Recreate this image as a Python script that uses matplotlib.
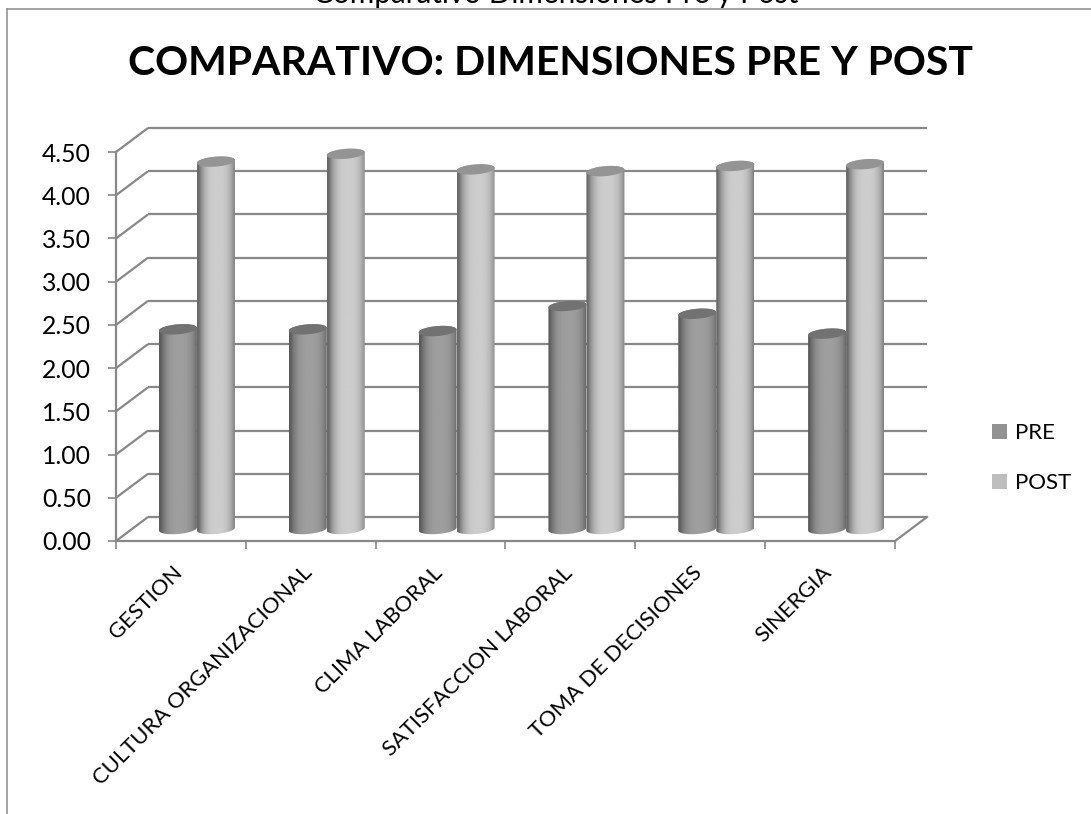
import numpy as np
import matplotlib
matplotlib.use("Agg")
import matplotlib.pyplot as plt
from matplotlib.path import Path
from matplotlib.patches import PathPatch, Patch
from matplotlib.lines import Line2D

categories = ["GESTION", "CULTURA ORGANIZACIONAL", "CLIMA LABORAL",
              "SATISFACCION LABORAL", "TOMA DE DECISIONES", "SINERGIA"]
pre = [2.31, 2.31, 2.29, 2.58, 2.49, 2.26]
post = [4.25, 4.34, 4.16, 4.14, 4.20, 4.22]
yticks = [0, 0.5, 1, 1.5, 2, 2.5, 3, 3.5, 4, 4.5]
series_names = ["PRE", "POST"]

W, H = 1091, 814
plt.rcParams["font.family"] = ["Lato", "DejaVu Sans"]
fig = plt.figure(figsize=(W / 100, H / 100), dpi=100)
fig.patch.set_facecolor("white")
AX_L, AX_T, AX_R, AX_B = 116, 152, 895, 541
ax = fig.add_axes([AX_L / W, 1 - AX_B / H, (AX_R - AX_L) / W, (AX_B - AX_T) / H])
ax.patch.set_visible(False)

GRID = "#888888"
px_x = 6 / (AX_R - AX_L)
px_y = 4.5 / (AX_B - AX_T)
dx, dy = 32 * px_x, 24 * px_y

for v in yticks:
    ax.plot([0, dx], [v, v + dy], color=GRID, lw=1.6, clip_on=False, zorder=1, solid_capstyle="butt")
    ax.plot([dx, 6 + dx], [v + dy, v + dy], color=GRID, lw=1.6, clip_on=False, zorder=1, solid_capstyle="butt")
ax.plot([6, 6 + dx], [0, dy], color=GRID, lw=1.6, clip_on=False, zorder=1)


def cylinder(xc, val, w, lo, hi, top_col, z):
    t = np.linspace(0, 2 * np.pi, 121)
    hw = w / 2
    b = 5 * px_y
    tilt = 1.5 * px_y
    ex = xc + hw * np.cos(t)
    offs = b * np.sin(t) + tilt * np.cos(t)
    base = dy / 2
    low = (t >= np.pi) & (t <= 2 * np.pi)
    up = t <= np.pi
    xs = np.r_[ex[low], ex[up]]
    ys = np.r_[(base + offs)[low], (base + val + offs)[up]]
    body = PathPatch(Path(np.c_[xs, ys]), transform=ax.transData, fc="none", ec="none")
    ax.add_patch(body)
    u = np.linspace(-1, 1, 120)
    shade = lo + (hi - lo) * (1 - np.abs(u - 0.08) ** 3).clip(0, 1)
    img = np.repeat(shade[None, :], 2, axis=0)
    im = ax.imshow(img, cmap="gray", vmin=0, vmax=255, aspect="auto", interpolation="bilinear",
                   extent=[xc - hw, xc + hw, base - 2 * b, base + val + 2 * b], zorder=z)
    im.set_clip_path(body)
    im.set_clip_box(fig.bbox)
    top = PathPatch(Path(np.c_[ex, base + val + offs]), fc=top_col, ec="none", zorder=z + 0.1, clip_on=False)
    ax.add_patch(top)


bw = 38 * px_x
for i in range(len(categories)):
    xc = i + 0.5 + dx / 2
    cylinder(xc - bw / 2, pre[i], bw, 92, 158, "#727272", 2 + i)
    cylinder(xc + bw / 2, post[i], bw, 105, 205, "#949494", 2.5 + i)

ax.set_xlim(0, 6)
ax.set_ylim(0, 4.5)
for s in ("top", "right"):
    ax.spines[s].set_visible(False)
for s in ("left", "bottom"):
    ax.spines[s].set_color(GRID)
    ax.spines[s].set_linewidth(1.6)
    ax.spines[s].set_zorder(20)
ax.set_yticks(yticks, [f"{v:.2f}" for v in yticks])
ax.set_xticks(range(7), [""] * 7)
ax.tick_params(axis="both", length=6, width=1.2, color=GRID)
ax.tick_params(axis="y", labelsize=17.8, pad=12)
for lbl in ax.get_yticklabels():
    lbl.set_verticalalignment("center_baseline")

for i, c in enumerate(categories):
    ax.annotate(c, xy=(i + 0.5, 0), xycoords="data", xytext=(-6, -15.5), textcoords="offset points",
                rotation=45, rotation_mode="anchor", ha="right", va="top", fontsize=15.8, color="black")

fig.text(551 / W, 1 - 75 / H, "COMPARATIVO: DIMENSIONES PRE Y POST", ha="center", va="baseline",
         fontsize=29.5, fontweight="bold", color="black")
fig.text(556 / W, 1 - 3 / H, "Comparativo Dimensiones Pre y Post", ha="center", va="baseline",
         fontsize=21.4, color="black")

fig.add_artist(Line2D([6.5 / W, 6.5 / W], [0, 1 - 9 / H], color="#8c8c8c", lw=1.1))
fig.add_artist(Line2D([6.5 / W, 1], [1 - 9 / H, 1 - 9 / H], color="#8c8c8c", lw=1.1))

handles = [Patch(fc="#929292", ec="none"), Patch(fc="#bebebe", ec="none")]
fig.legend(handles, series_names, loc="center left", bbox_to_anchor=(972 / W, 1 - 458 / H), frameon=False,
           fontsize=16, handlelength=0.68, handleheight=0.68, handletextpad=0.36, labelspacing=1.35)

fig.savefig("out.png", dpi=100)
